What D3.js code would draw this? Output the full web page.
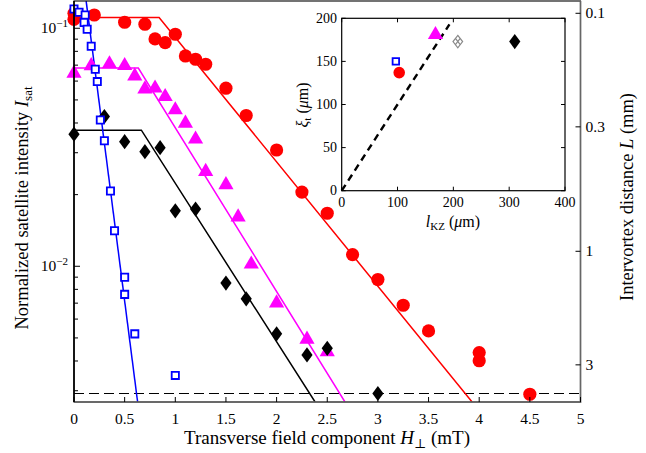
<!DOCTYPE html>
<html>
<head>
<meta charset="utf-8">
<script src="https://cdn.jsdelivr.net/npm/d3@7"></script>
<style>
  body { margin: 0; background: #fff; }
  text { font-family: "Liberation Serif", "DejaVu Serif", serif; fill: #000; }
</style>
</head>
<body>
<svg id="fig" width="646" height="453"></svg>
<script>
// donnees : [H (mT), I_sat]
const blueSquares = [[0,0.1205],[0.05,0.1167],[0.11,0.1137],[0.10,0.1057],[0.13,0.099],[0.17,0.084],
  [0.21,0.0673],[0.23,0.0597],[0.26,0.0412],[0.30,0.0337],[0.36,0.0207],[0.40,0.0141],
  [0.50,0.0090],[0.50,0.00762],[0.60,0.0052],[1.0,0.00348]];
const redCircles = [[0,0.1156],[0,0.109],[0.2,0.1137],[0.5,0.106],[0.7,0.104],[0.8,0.0902],[0.9,0.087],
  [1.0,0.0944],[1.1,0.0765],[1.2,0.0741],[1.3,0.0706],[1.5,0.056],[1.7,0.043],[2.0,0.0308],
  [2.25,0.0205],[2.5,0.0167],[2.75,0.0112],[3.0,0.0088],[3.25,0.00686],[3.5,0.00535],
  [4.0,0.00434],[4.0,0.00401],[4.5,0.0029]];
const magentaTriangles = [[0,0.0647],[0.17,0.0695],[0.35,0.0708],[0.5,0.0696],[0.6,0.063],[0.7,0.0555],
  [0.8,0.056],[0.9,0.0516],[1.0,0.0454],[1.1,0.0399],[1.2,0.0342],[1.3,0.025],[1.5,0.022],
  [1.62,0.0161],[1.75,0.0102],[2.0,0.0070],[2.3,0.00493],[2.5,0.00437]];
const blackDiamonds = [[0,0.0359],[0.3,0.0426],[0.5,0.0334],[0.7,0.0303],[0.85,0.0315],[1.0,0.0171],
  [1.2,0.0174],[1.5,0.0085],[1.7,0.0073],[2.0,0.0052],[2.3,0.00424],[2.5,0.00452],[3.0,0.00292]];

// ajustements (plateau puis decroissance)
const blueFit = [[0.12,0.13],[0.628,0.00269]];
const redFit = [[0,0.111],[0.84,0.111],[3.93,0.00269]];
const magentaFit = [[0,0.0681],[0.635,0.0681],[2.675,0.00269]];
const blackFit = [[0,0.0373],[0.665,0.0373],[2.38,0.00269]];
const noiseLevel = 0.00292;

const xTicks = [0,0.5,1,1.5,2,2.5,3,3.5,4,4.5,5];
const xTickLabels = ["0","0.5","1","1.5","2","2.5","3","3.5","4","4.5","5"];
const yMajor = [0.1, 0.01];
const yMajorExp = ["\u22121", "\u22122"];
const rightTicks = [0.1, 0.3, 1, 3];

// encart : [l_KZ (um), xi_t (um)]
const insetBlue = [[97,150]];
const insetRed = [[103,137]];
const insetMagenta = [[168,181]];
const insetGrey = [[208,173]];
const insetBlack = [[310,173]];
const insetLine = [[0,0],[193,193]];
const insetXTicks = [0,100,200,300,400];
const insetYTicks = [0,50,100,150,200];

const svg = d3.select("#fig");
const L = 74, R = 580.5, T = 1, B = 402;

const x = d3.scaleLinear().domain([0,5]).range([L,R]);
const y = d3.scaleLog().domain([0.1302,0.00269]).range([T,B]);
const yR = d3.scaleLog().domain([0.01156/0.1302, 0.01156/0.00269]).range([T,B]);

svg.append("clipPath").attr("id","clip").append("rect")
  .attr("x",L).attr("y",T).attr("width",R-L).attr("height",B-T);

const line = d3.line().x(d => x(d[0])).y(d => y(d[1]));
const plot = svg.append("g").attr("clip-path","url(#clip)");

// ligne de bruit
plot.append("line")
  .attr("x1",L).attr("x2",R).attr("y1",y(noiseLevel)).attr("y2",y(noiseLevel))
  .attr("stroke","#000").attr("stroke-width",1.1).attr("stroke-dasharray","10,5");

const fits = [[redFit,"#ff0000"],[magentaFit,"#ff00ff"],[blackFit,"#000"],[blueFit,"#0000ff"]];
fits.forEach(f => {
  plot.append("path").datum(f[0]).attr("d",line)
    .attr("fill","none").attr("stroke",f[1]).attr("stroke-width",1.5);
});

// formes des marqueurs
function diamondPath(w,h) {
  return "M0,"+(-h)+"L"+w+",0L0,"+h+"L"+(-w)+",0Z";
}
const circleSym = d3.symbol().type(d3.symbolCircle).size(Math.PI*6.6*6.6)();
const triSym = d3.symbol().type(d3.symbolTriangle).size(100)();
const squareSym = d3.symbol().type(d3.symbolSquare).size(52)();

function drawMarks(g, data, sx, sy, shape, fill, stroke, sw) {
  g.selectAll(null).data(data).enter().append("path")
    .attr("transform", d => "translate("+sx(d[0])+","+sy(d[1])+")")
    .attr("d", shape)
    .attr("fill", fill)
    .attr("stroke", stroke)
    .attr("stroke-width", sw);
}

const marks = svg.append("g");
drawMarks(marks, redCircles, x, y, circleSym, "#ff0000", "none", 0);
drawMarks(marks, magentaTriangles, x, y, triSym, "#ff00ff", "none", 0);
drawMarks(marks, blackDiamonds, x, y, diamondPath(5.6,7.6), "#000", "none", 0);
drawMarks(marks, blueSquares, x, y, squareSym, "#fff", "#0000ff", 1.8);

// axes
const ax = svg.append("g");
ax.append("rect").attr("x",L).attr("y",T).attr("width",R-L).attr("height",B-T)
  .attr("fill","none").attr("stroke","#000").attr("stroke-width",1.1);
ax.append("line").attr("x1",L).attr("x2",R).attr("y1",B).attr("y2",B)
  .attr("stroke","#666").attr("stroke-width",1.6);
ax.append("line").attr("x1",R).attr("x2",R).attr("y1",T).attr("y2",B+1)
  .attr("stroke","#666").attr("stroke-width",1.6);
ax.append("line").attr("x1",L).attr("x2",L).attr("y1",T).attr("y2",B)
  .attr("stroke","#000").attr("stroke-width",1.6);

// ticks x
xTicks.forEach((t,i) => {
  ax.append("line").attr("x1",x(t)).attr("x2",x(t)).attr("y1",B).attr("y2",B-5)
    .attr("stroke","#000").attr("stroke-width",1);
  ax.append("text").attr("x",x(t)).attr("y",B+22).attr("text-anchor","middle")
    .attr("font-size",15.5).text(xTickLabels[i]);
});

// ticks y log
const minor = [];
[0.001,0.01,0.1].forEach(dec => { for (let k=1;k<10;k++) minor.push(dec*k); });
minor.filter(v => v <= 0.1302 && v >= 0.00269).forEach(v => {
  const isMaj = yMajor.indexOf(+v.toPrecision(3)) >= 0;
  ax.append("line").attr("x1",L).attr("x2",L+(isMaj?6:4)).attr("y1",y(v)).attr("y2",y(v))
    .attr("stroke","#000").attr("stroke-width",1);
});
yMajor.forEach((v,i) => {
  const t = ax.append("text").attr("x",L-6).attr("y",y(v)+5).attr("text-anchor","end").attr("font-size",15.5);
  t.append("tspan").text("10");
  t.append("tspan").attr("font-size",11).attr("dy",-6).text(yMajorExp[i]);
});

// axe droit
rightTicks.forEach(v => {
  ax.append("line").attr("x1",R).attr("x2",R-5).attr("y1",yR(v)).attr("y2",yR(v))
    .attr("stroke","#000").attr("stroke-width",1);
  ax.append("text").attr("x",R+5).attr("y",yR(v)+5).attr("font-size",15.5).text(v);
});

// titres des axes
const xl = svg.append("text").attr("x",327).attr("y",444).attr("text-anchor","middle").attr("font-size",19);
xl.append("tspan").text("Transverse field component ");
xl.append("tspan").attr("font-style","italic").text("H");
xl.append("tspan").attr("font-size",13).attr("dy",4).text("\u22a5");
xl.append("tspan").attr("dy",-4).text(" (mT)");

const yl = svg.append("text").attr("transform","translate(28,208) rotate(-90)")
  .attr("text-anchor","middle").attr("font-size",18.5);
yl.append("tspan").text("Normalized satellite intensity ");
yl.append("tspan").attr("font-style","italic").text("I");
yl.append("tspan").attr("font-size",13).attr("dy",4).text("sat");

const rl = svg.append("text").attr("transform","translate(633,197) rotate(-90)")
  .attr("text-anchor","middle").attr("font-size",18.5);
rl.append("tspan").text("Intervortex distance ");
rl.append("tspan").attr("font-style","italic").text("L");
rl.append("tspan").text(" (mm)");

// encart
const xi = d3.scaleLinear().domain([0,400]).range([341.7,565]);
const yi = d3.scaleLinear().domain([0,200]).range([190.7,18.3]);
const inset = svg.append("g");
inset.append("rect").attr("x",341.7).attr("y",18.3).attr("width",565-341.7).attr("height",190.7-18.3)
  .attr("fill","#fff").attr("stroke","#000").attr("stroke-width",1.2);

insetXTicks.forEach(t => {
  inset.append("line").attr("x1",xi(t)).attr("x2",xi(t)).attr("y1",190.7).attr("y2",186.7).attr("stroke","#000");
  inset.append("line").attr("x1",xi(t)).attr("x2",xi(t)).attr("y1",18.3).attr("y2",22.3).attr("stroke","#000");
  inset.append("text").attr("x",xi(t)).attr("y",207).attr("text-anchor","middle").attr("font-size",14).text(t);
});
insetYTicks.forEach(t => {
  inset.append("line").attr("x1",341.7).attr("x2",345.7).attr("y1",yi(t)).attr("y2",yi(t)).attr("stroke","#000");
  inset.append("line").attr("x1",565).attr("x2",561).attr("y1",yi(t)).attr("y2",yi(t)).attr("stroke","#000");
  inset.append("text").attr("x",337).attr("y",yi(t)+4.5).attr("text-anchor","end").attr("font-size",14).text(t);
});

const il = d3.line().x(d => xi(d[0])).y(d => yi(d[1]));
inset.append("path").datum(insetLine).attr("d",il).attr("fill","none")
  .attr("stroke","#000").attr("stroke-width",2.4).attr("stroke-dasharray","7,5");

drawMarks(inset, insetRed, xi, yi, d3.symbol().type(d3.symbolCircle).size(Math.PI*5.8*5.8)(), "#ff0000", "none", 0);
drawMarks(inset, insetBlue, xi, yi, d3.symbol().type(d3.symbolSquare).size(42)(), "#fff", "#0000ff", 1.8);
drawMarks(inset, insetMagenta, xi, yi, triSym, "#ff00ff", "none", 0);
drawMarks(inset, insetBlack, xi, yi, diamondPath(5.6,7.6), "#000", "none", 0);
// losange gris hachure
const gw = 4.8, gh = 6.2;
drawMarks(inset, insetGrey, xi, yi, diamondPath(gw,gh)
  + "M"+(-gw/2)+","+(-gh/2)+"L"+(gw/2)+","+(gh/2)
  + "M"+(gw/2)+","+(-gh/2)+"L"+(-gw/2)+","+(gh/2), "none", "#888", 1.2);

const ixl = svg.append("text").attr("x",453).attr("y",227).attr("text-anchor","middle").attr("font-size",16);
ixl.append("tspan").attr("font-style","italic").text("l");
ixl.append("tspan").attr("font-size",11).attr("dy",3).text("KZ");
ixl.append("tspan").attr("dy",-3).text(" (");
ixl.append("tspan").attr("font-style","italic").text("\u03bc");
ixl.append("tspan").text("m)");

const iyl = svg.append("text").attr("transform","translate(308,105) rotate(-90)")
  .attr("text-anchor","middle").attr("font-size",16);
iyl.append("tspan").attr("font-style","italic").text("\u03be");
iyl.append("tspan").attr("font-size",11).attr("dy",3).text("t");
iyl.append("tspan").attr("dy",-3).text(" (");
iyl.append("tspan").attr("font-style","italic").text("\u03bc");
iyl.append("tspan").text("m)");
</script>
</body>
</html>
